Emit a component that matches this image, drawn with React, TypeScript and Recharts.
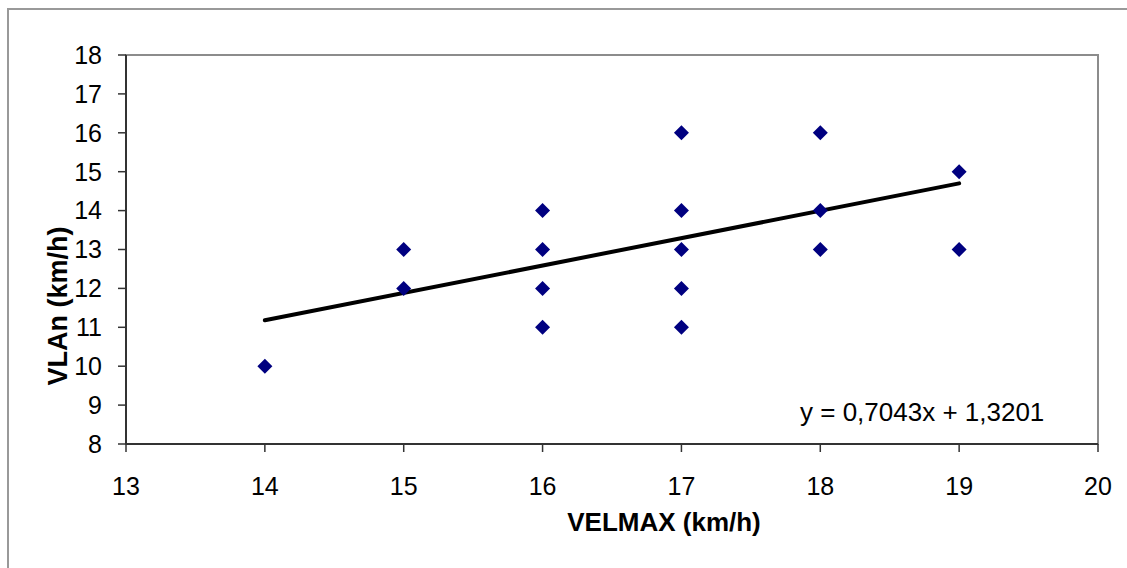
import { ScatterChart, Scatter, XAxis, YAxis, ReferenceLine, ReferenceArea } from 'recharts';

const xTicks = [13, 14, 15, 16, 17, 18, 19, 20];
const yTicks = [8, 9, 10, 11, 12, 13, 14, 15, 16, 17, 18];

// VELMAX (km/h) vs VLAn (km/h)
const velmax = [14, 15, 15, 16, 16, 16, 16, 17, 17, 17, 17, 17, 18, 18, 18, 19, 19];
const vlan = [10, 13, 12, 14, 13, 12, 11, 16, 14, 13, 12, 11, 16, 14, 13, 15, 13];

// trend line ends
const trendX = [14, 19];
const trendY = [11.18, 14.7];

const points = velmax.map((x, i) => ({ x, y: vlan[i] }));

const font = '"Liberation Sans", Arial, sans-serif';
const tickStyle = { fill: '#000', fontSize: 25, fontFamily: font };

const Diamond = (props: any) => {
  const { cx, cy } = props;
  const r = 7.5;
  return <path d={`M${cx},${cy - r}L${cx + r},${cy}L${cx},${cy + r}L${cx - r},${cy}Z`} fill="#000080" />;
};

export default function App() {
  return (
    <div style={{ position: 'absolute', left: 0, top: 0, width: 1127, height: 568, overflow: 'hidden', background: '#fff' }}>
      <div style={{ position: 'absolute', left: 7, top: 8, width: 1200, height: 700, borderLeft: '2px solid #999', borderTop: '2px solid #999' }} />
      <ScatterChart width={1127} height={568} margin={{ top: 55, right: 29, left: 0, bottom: 0 }}>
        <XAxis
          type="number"
          dataKey="x"
          domain={[13, 20]}
          ticks={xTicks}
          interval={0}
          height={124}
          tickSize={8}
          tickMargin={25}
          tick={tickStyle}
          axisLine={{ stroke: '#333', strokeWidth: 2 }}
          tickLine={{ stroke: '#333', strokeWidth: 1.5 }}
        />
        <YAxis
          type="number"
          dataKey="y"
          domain={[8, 18]}
          ticks={yTicks}
          interval={0}
          width={126}
          tickSize={8}
          tickMargin={16}
          tick={tickStyle}
          axisLine={{ stroke: '#333', strokeWidth: 2 }}
          tickLine={{ stroke: '#333', strokeWidth: 1.5 }}
        />
        <ReferenceArea x1={13} x2={20} y1={8} y2={18} fill="none" stroke="#8c8c8c" strokeWidth={2} ifOverflow="visible" />
        <Scatter data={points} shape={Diamond} isAnimationActive={false} />
        <ReferenceLine
          segment={[{ x: trendX[0], y: trendY[0] }, { x: trendX[1], y: trendY[1] }]}
          stroke="#000"
          strokeWidth={4}
          strokeLinecap="round"
        />
      </ScatterChart>
      <svg width={1127} height={568} style={{ position: 'absolute', left: 0, top: 0, pointerEvents: 'none' }}>
        <text x={664} y={531} textAnchor="middle" fontFamily={font} fontWeight="bold" fontSize={26} fill="#000">
          VELMAX (km/h)
        </text>
        <text
          x={67}
          y={306}
          transform="rotate(-90 67 306)"
          textAnchor="middle"
          fontFamily={font}
          fontWeight="bold"
          fontSize={27}
          fill="#000"
        >
          VLAn (km/h)
        </text>
        <text x={800} y={421} fontFamily={font} fontSize={26} fill="#000">
          y = 0,7043x + 1,3201
        </text>
      </svg>
    </div>
  );
}
